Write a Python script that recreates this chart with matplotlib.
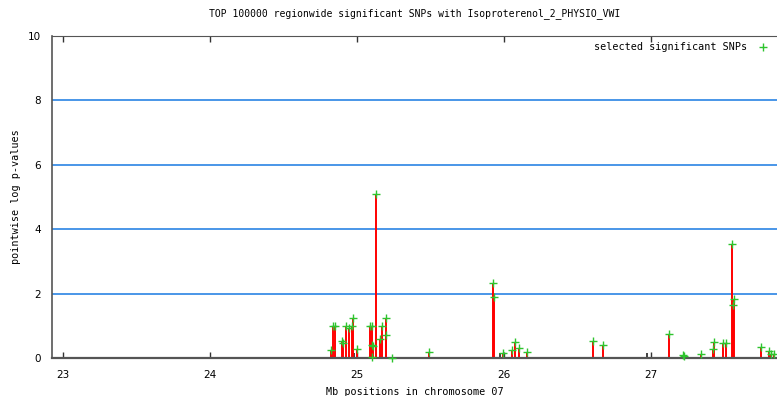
import matplotlib
matplotlib.use('Agg')
import matplotlib.pyplot as plt
import numpy as np

# selected significant SNPs (Mb, -log p)
snp_pos = [24.823, 24.835, 24.848, 24.900, 24.902, 24.925, 24.948, 24.968, 24.970,
           25.002, 25.088, 25.100, 25.101, 25.110, 25.102, 25.127, 25.156, 25.172,
           25.195, 25.196, 25.240, 25.490,
           25.923, 25.930, 25.995, 26.052, 26.075, 26.100, 26.156,
           26.607, 26.675, 27.125, 27.216, 27.227, 27.338, 27.424, 27.430, 27.490,
           27.508, 27.551, 27.565, 27.556, 27.748, 27.803, 27.815, 27.837]
snp_logp = [0.25, 1.0, 1.0, 0.54, 0.46, 1.0, 0.92, 1.0, 1.24,
            0.27, 1.0, 1.0, 0.40, 0.38, 0.04, 5.09, 0.60, 1.0,
            1.24, 0.72, 0.0, 0.19,
            2.32, 1.90, 0.17, 0.25, 0.51, 0.30, 0.20,
            0.53, 0.41, 0.75, 0.09, 0.06, 0.12, 0.29, 0.49, 0.48,
            0.48, 3.54, 1.82, 1.64, 0.33, 0.23, 0.12, 0.12]

# other SNPs (no marker)
other_pos = [24.982, 25.973, 26.971]
other_logp = [0.15, 0.15, 0.14]

title = 'TOP 100000 regionwide significant SNPs with Isoproterenol_2_PHYSIO_VWI'

mono = 'DejaVu Sans Mono'

fig = plt.figure(figsize=(7.77, 3.96), dpi=100)
ax = fig.add_axes([0.0669, 0.096, 0.9331, 0.813])

ax.set_xlim(22.925, 27.857)
ax.set_ylim(0, 10)

for v in [2, 4, 6, 8]:
    ax.axhline(v, color='#3a8ee6', lw=1.3, zorder=1)

ax.vlines(other_pos, 0, other_logp, colors='#333333', lw=1.3, zorder=2)
ax.vlines(snp_pos, 0, snp_logp, colors='#ff0000', lw=1.4, zorder=2)
ax.plot(snp_pos, snp_logp, ls='none', marker='+', ms=6.3, mew=1.0,
        color='#2ec42e', label='selected significant SNPs', zorder=3, clip_on=False)

ax.set_xticks([23, 24, 25, 26, 27])
ax.set_yticks([0, 2, 4, 6, 8, 10])
ax.tick_params(axis='x', direction='in', top=True, length=4, width=1,
               color='#333333', labelsize=7.5, pad=9)
ax.tick_params(axis='y', direction='in', length=0, labelsize=7.5, pad=8)
for lab in ax.get_xticklabels() + ax.get_yticklabels():
    lab.set_family('DejaVu Sans')

for s in ['left', 'bottom', 'top']:
    ax.spines[s].set_color('#555555')
ax.spines['bottom'].set_linewidth(1.6)
ax.spines['left'].set_linewidth(1.2)
ax.spines['top'].set_linewidth(0.8)
ax.spines['right'].set_visible(False)

ax.set_title(title, fontsize=7, family=mono, pad=14)
ax.set_xlabel('Mb positions in chromosome 07', fontsize=7.3, family=mono, labelpad=4.5)
ax.set_ylabel('pointwise log p-values', fontsize=7.3, family=mono, labelpad=5)

leg = ax.legend(loc='upper right', frameon=False, markerfirst=False,
                prop={'family': mono, 'size': 7.3}, handlelength=1.5,
                borderaxespad=0.2)

fig.savefig('out.png', dpi=100)
